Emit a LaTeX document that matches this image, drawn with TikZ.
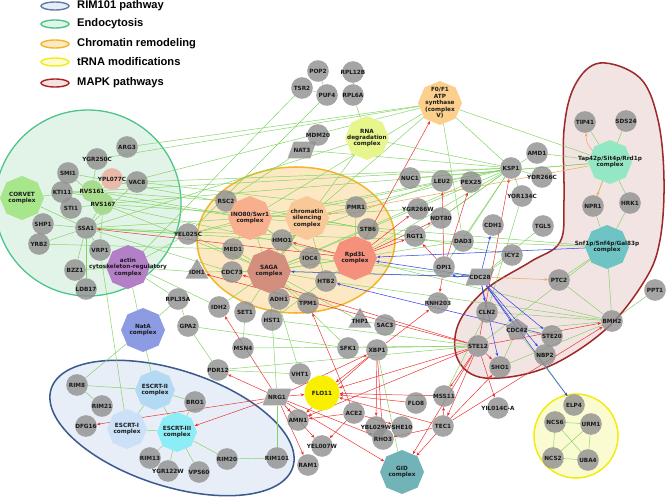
\documentclass[tikz,border=0pt]{standalone}
\usepackage{fontspec}
\setmainfont{DejaVu Sans}
\newfontfamily\legendfont{Liberation Sans}
\usetikzlibrary{shapes.geometric,arrows.meta}
\pgfdeclarelayer{back}
\pgfdeclarelayer{edges}
\pgfsetlayers{back,edges,main}
% region colours
\definecolor{rimb}{HTML}{3B5B8F}\definecolor{rimf}{HTML}{E8EEF7}
\definecolor{endob}{HTML}{4CC48A}\definecolor{endof}{HTML}{E2F3E8}
\definecolor{chrb}{HTML}{F5B52A}\definecolor{chrf}{HTML}{FDE8C4}
\definecolor{trnab}{HTML}{F2EC10}\definecolor{trnaf}{HTML}{FBFBD2}
\definecolor{mapkb}{HTML}{9C2A2A}\definecolor{mapkf}{HTML}{F3E4E4}
% node and edge colours
\definecolor{nodegrey}{HTML}{8F8F8F}
\definecolor{textdark}{HTML}{1A1A1A}
\definecolor{edgegreen}{HTML}{7FD35F}
\definecolor{edgered}{HTML}{EC2B2B}
\definecolor{edgeblue}{HTML}{3346E6}
\definecolor{edgeorange}{HTML}{F2A65A}
% complex colours
\definecolor{corvetc}{HTML}{A8E68C}\definecolor{actinc}{HTML}{B37FC6}
\definecolor{rnadegc}{HTML}{E6F58C}\definecolor{atpc}{HTML}{FCD08C}
\definecolor{ino80c}{HTML}{F8AF8E}\definecolor{silc}{HTML}{F9C898}
\definecolor{rpd3lc}{HTML}{F4907C}\definecolor{sagac}{HTML}{D48E7E}
\definecolor{natac}{HTML}{8C9BE2}\definecolor{escIIc}{HTML}{B3DAF2}
\definecolor{escIc}{HTML}{CCE0F8}\definecolor{escIIIc}{HTML}{8DEDF6}
\definecolor{gidc}{HTML}{72B3B7}\definecolor{tap42c}{HTML}{93E8C3}
\definecolor{snf1c}{HTML}{6EC3C3}\definecolor{rvsc}{HTML}{A8DB8E}
\definecolor{yplc}{HTML}{E9B9A9}\definecolor{flo11c}{HTML}{F8F000}
\begin{document}
\begin{tikzpicture}[x=0.03cm,y=-0.03cm,
  gn/.style={circle,fill=nodegrey,fill opacity=0.8,minimum size=0.65cm,inner sep=0pt},
  gt/.style={font=\bfseries\fontsize{4.9}{5.5}\selectfont,text=textdark,align=center,inner sep=0pt},
  oct/.style={regular polygon,regular polygon sides=8,shape border rotate=22.5,minimum size=1.32cm,inner sep=0pt},
  tri/.style={regular polygon,regular polygon sides=3,fill=nodegrey,fill opacity=0.8,minimum size=0.8cm,inner sep=0pt},
  para/.style={trapezium,trapezium left angle=70,trapezium right angle=110,fill=nodegrey,fill opacity=0.8,minimum width=0.62cm,minimum height=0.5cm,inner sep=2pt},
  ge/.style={draw=edgegreen,line width=0.4pt},
  re/.style={draw=edgered,line width=0.4pt,-{Stealth[length=3pt,width=2.4pt]}},
  be/.style={draw=edgeblue,line width=0.45pt,-{Stealth[length=3pt,width=2.4pt]}},
  oe/.style={draw=edgeorange,line width=0.45pt,-{Stealth[length=3pt,width=2.4pt]}},
  lg/.style={font=\legendfont\bfseries\fontsize{9.5}{11}\selectfont,anchor=west,inner sep=0pt}]
\useasboundingbox (0,0) rectangle (667,497);

% legend
\draw[draw=rimb!80,fill=rimf,line width=1.2pt] (55,6) ellipse[x radius=14,y radius=4];
\draw[draw=endob,fill=endof,line width=1.2pt] (55,24) ellipse[x radius=14,y radius=4];
\draw[draw=chrb,fill=chrf,line width=1.2pt] (55,44) ellipse[x radius=14,y radius=4];
\draw[draw=trnab,fill=trnaf,line width=1.2pt] (55,62) ellipse[x radius=14,y radius=4];
\draw[draw=mapkb!80!red,fill=mapkf,line width=1.2pt] (55,83) ellipse[x radius=14,y radius=4];
\node[lg] (lgrim) at (77,6) {RIM101 pathway};
\node[lg] (lgendo) at (77,24) {Endocytosis};
\node[lg] (lgchr) at (77,44) {Chromatin remodeling};
\node[lg] (lgtrna) at (77,62) {tRNA modifications};
\node[lg] (lgmapk) at (77,83) {MAPK pathways};

% grey genes
\foreach \n/\px/\py/\t in {
  arg3/127/147/ARG3, ygr250c/97/159/YGR250C, smi1/68/173/SMI1, vac8/137/182/VAC8,
  kti11/62/192/KTI11, sti1/71/208/STI1, shp1/43/224/SHP1, ssa1/86/228/SSA1,
  yrb2/39/244/YRB2, vrp1/100/250/VRP1, bzz1/75/270/BZZ1, ldb17/86/289/LDB17,
  yel025c/188/234/YEL025C, pop2/318/71/POP2, rpl12b/353/72/RPL12B, tsr2/302/88/TSR2,
  puf4/327/95/PUF4, rpl6a/353/95/RPL6A, mdm20/318/135/MDM20, nuc1/410/178/NUC1,
  rsc2/226/201/RSC2, pmr1/356/207/PMR1, stb6/368/229/STB6, hmo1/282/240/HMO1,
  med1/233/249/MED1, ioc4/310/258/IOC4, cdc73/232/272/CDC73, htb2/326/281/HTB2,
  adh1/279/299/ADH1, tpm1/308/303/TPM1, idh2/219/307/IDH2, set1/245/312/SET1,
  hst1/272/320/HST1, rpl35a/178/299/RPL35A, gpa2/188/326/GPA2, msn4/243/348/MSN4,
  pdr12/218/370/PDR12, vht1/300/374/VHT1, amn1/298/420/AMN1, yel007w/322/446/YEL007W,
  ram1/308/465/RAM1, rim8/77/385/RIM8, bro1/195/402/BRO1, rim21/102/406/RIM21,
  dfg16/86/426/DFG16, rim13/150/458/RIM13, ygr122w/168/471/YGR122W, vps60/199/472/VPS60,
  rim20/227/459/RIM20, rim101/277/458/RIM101, sac3/385/325/SAC3, rnh203/438/303/RNH203,
  cln2/487/312/CLN2, sfk1/348/348/SFK1, xbp1/377/350/XBP1, ste12/478/346/STE12,
  sho1/500/367/SHO1, mss11/444/396/MSS11, flo8/416/403/FLO8, ace2/354/413/ACE2,
  ybl029w/376/427/YBL029W, she10/402/427/SHE10, tec1/443/426/TEC1, yil014ca/498/408/YIL014C-A,
  rho3/383/439/RHO3, leu2/442/181/LEU2, pex25/471/182/PEX25, ygr266w/418/209/YGR266W,
  ndt80/441/218/NDT80, rgt1/415/236/RGT1, cdh1/493/225/CDH1, dad3/463/241/DAD3,
  opi1/444/267/OPI1, ksp1/511/168/KSP1, amd1/537/153/AMD1, ydr266c/542/177/YDR266C,
  yor134c/522/196/YOR134C, tgl5/543/226/TGL5, icy2/512/255/ICY2, tip41/585/122/TIP41,
  sds24/626/121/SDS24, npr1/593/206/NPR1, hrk1/630/203/HRK1, ptc2/559/280/PTC2,
  ppt1/655/290/PPT1, bmh2/612/321/BMH2, ste20/552/336/STE20, nbp2/545/355/NBP2,
  elp4/574/405/ELP4, ncs6/555/422/NCS6, urm1/591/424/URM1, ncs2/553/458/NCS2, uba4/588/460/UBA4}
  \node[gn,label={[gt]center:\t}] (\n) at (\px,\py) {};

% other gene shapes
\node[gn,fill=rvsc,fill opacity=1,label={[gt]center:RVS161}] (rvs161) at (92,191) {};
\node[gn,fill=rvsc,fill opacity=1,label={[gt]center:RVS167}] (rvs167) at (103,204) {};
\node[gn,fill=yplc,fill opacity=1,label={[gt]center:YPL077C}] (ypl077c) at (112,179) {};
\node[circle,fill=flo11c,minimum size=1.05cm,inner sep=0pt,label={[gt]center:FLO11}] (flo11) at (322,393) {};
\node[tri,label={[gt]center:IDH1}] (idh1) at (197,272) {};
\node[tri,label={[gt]center:THP1}] (thp1) at (360,321) {};
\node[para,label={[gt]center:NAT3}] (nat3) at (302,150) {};
\node[para,label={[gt]center:NRG1}] (nrg1) at (277,397) {};
\node[para,label={[gt]center:CDC28}] (cdc28) at (480,277) {};
\node[regular polygon,regular polygon sides=5,fill=nodegrey,fill opacity=0.8,minimum size=0.7cm,inner sep=0pt,label={[gt]center:CDC42}] (cdc42) at (517,330) {};

% complexes
\node[oct,fill=corvetc,label={[gt]center:{CORVET\\complex}}] (corvet) at (22,198) {};
\node[oct,fill=actinc,label={[gt]center:{actin\\cytoskeleton-regulatory\\complex}}] (actin) at (128,267) {};
\node[oct,fill=rnadegc,label={[gt]center:{RNA\\degradation\\complex}}] (rnadeg) at (367,138) {};
\node[oct,fill=atpc,label={[gt]center:{F0/F1\\ATP\\synthase\\(complex\\V)}}] (f0f1) at (440,103) {};
\node[oct,fill=ino80c,label={[gt]center:{INO80/Swr1\\complex}}] (ino80) at (250,218) {};
\node[oct,fill=silc,label={[gt]center:{chromatin\\silencing\\complex}}] (chromsil) at (307,218) {};
\node[oct,fill=rpd3lc,label={[gt]center:{Rpd3L\\complex}}] (rpd3l) at (355,258) {};
\node[oct,fill=sagac,label={[gt]center:{SAGA\\complex}}] (saga) at (269,271) {};
\node[oct,fill=natac,label={[gt]center:{NatA\\complex}}] (nata) at (143,330) {};
\node[oct,fill=escIIc,minimum size=1.2cm,label={[gt]center:{ESCRT-II\\complex}}] (escII) at (155,390) {};
\node[oct,fill=escIc,minimum size=1.2cm,label={[gt]center:{ESCRT-I\\complex}}] (escI) at (127,429) {};
\node[oct,fill=escIIIc,minimum size=1.2cm,label={[gt]center:{ESCRT-III\\complex}}] (escIII) at (177,432) {};
\node[oct,fill=gidc,label={[gt]center:{GID\\complex}}] (gid) at (402,472) {};
\node[oct,fill=tap42c,label={[gt]center:{Tap42p/Sit4p/Rrd1p\\complex}}] (tap42) at (610,162) {};
\node[oct,fill=snf1c,label={[gt]center:{Snf1p/Snf4p/Gal83p\\complex}}] (snf1) at (607,247) {};

% pathway regions
\begin{pgfonlayer}{back}
\draw[draw=endob,fill=endof,line width=1.1pt] (88,203) circle[radius=93];
\draw[draw=chrb,fill=chrf,line width=1.3pt] (296,240) ellipse[x radius=99,y radius=73];
\draw[draw=rimb,fill=rimf,line width=1.3pt,rotate around={-18:(172,428)}] (172,428) ellipse[x radius=127,y radius=58];
\draw[draw=mapkb,fill=mapkf,line width=1.3pt] plot[smooth cycle,tension=0.6] coordinates {
  (600,63) (640,78) (658,120) (664,180) (660,240) (645,280) (605,330) (545,368)
  (485,378) (458,360) (458,325) (485,290) (530,262) (560,242) (564,200) (564,130) (575,85)};
\draw[draw=trnab,fill=trnaf,line width=1.3pt] (576,436) circle[radius=42];
\end{pgfonlayer}

% interactions
\begin{pgfonlayer}{edges}
\foreach \a/\b in {
  arg3/f0f1, ygr250c/f0f1, ygr250c/rvs161, smi1/rvs167, kti11/rvs161, ypl077c/rvs161, vac8/ssa1,
  corvet/rvs161, sti1/rvs167, rvs161/rvs167, shp1/ssa1, yrb2/ssa1, ssa1/rvs167, ssa1/vrp1,
  ssa1/ldb17, vrp1/actin, bzz1/actin, vrp1/escI, actin/escII, rvs167/vrp1, ssa1/bzz1, corvet/ssa1,
  rvs161/ino80, rvs161/ksp1, rvs167/chromsil, rvs167/saga, rvs167/rpd3l, ssa1/ino80, ssa1/yel025c,
  ssa1/hmo1, vac8/ksp1, ypl077c/pmr1, rvs161/rsc2, smi1/stb6, kti11/ino80, actin/idh1,
  actin/yel025c, actin/rpl35a, tsr2/actin, ssa1/cdc73, yrb2/med1, vrp1/idh2, rvs167/tap42,
  ssa1/snf1, rvs161/f0f1,
  pop2/puf4, tsr2/puf4, rpl12b/rpl6a, rpl6a/rnadeg, mdm20/nat3, puf4/yel025c, nat3/ksp1,
  nat3/rsc2, rnadeg/ksp1, rnadeg/saga, rnadeg/ssa1, f0f1/tap42, f0f1/ksp1, f0f1/ino80,
  f0f1/dad3, f0f1/hmo1,
  rsc2/ino80, ino80/hmo1, ino80/saga, ino80/med1, chromsil/hmo1, chromsil/saga, pmr1/rpd3l,
  stb6/rpd3l, hmo1/saga, med1/saga, ioc4/saga, ioc4/ino80, cdc73/saga, htb2/saga, adh1/saga,
  tpm1/saga, saga/rpd3l, htb2/chromsil,
  ino80/ksp1, chromsil/ksp1, saga/ksp1, rpd3l/ksp1, ino80/ygr266w, hmo1/leu2, saga/pex25,
  saga/cdc28, ino80/snf1, chromsil/icy2, saga/dad3, ioc4/cdc28, rpd3l/bmh2, htb2/bmh2,
  set1/chromsil, hst1/rpd3l, msn4/set1, idh1/saga, yel025c/ksp1, yel025c/ino80, yel025c/saga,
  idh2/saga,
  ksp1/amd1, ksp1/ydr266c, ksp1/yor134c, ksp1/opi1, ksp1/rgt1, ksp1/ndt80, ksp1/dad3,
  tap42/tip41, tap42/sds24, tap42/npr1, tap42/hrk1, npr1/snf1, hrk1/snf1, snf1/bmh2, snf1/ptc2,
  snf1/ste12, tap42/amd1, tap42/nuc1, bmh2/ptc2, bmh2/ppt1, bmh2/cln2, bmh2/cdc42, bmh2/sho1,
  tgl5/cdc28, yor134c/cln2, icy2/cdc28, ste20/cdc42, elp4/cdc42, sho1/cdc42,
  ncs6/urm1, ncs6/uba4, ncs6/ncs2, urm1/ncs2, urm1/uba4, ncs2/uba4,
  thp1/sac3, thp1/saga, sfk1/saga, xbp1/gid, vht1/saga, mss11/cln2, sfk1/ste12, pdr12/vht1,
  gpa2/pdr12, gpa2/sfk1, rpl35a/gpa2, rpl35a/nata, nata/rim8, rim8/rim21, rim8/escII,
  escII/bro1, escII/escI, escII/escIII, bro1/escIII, escI/escIII, escIII/rim13, escIII/ygr122w,
  escIII/vps60, escIII/rim20, rim20/rim101, rim101/nrg1, nrg1/saga, msn4/ste12, hst1/ste12,
  pdr12/ste12}
  \draw[ge] (\a) -- (\b);
% regulation
\foreach \a/\b in {
  ste12/flo11, ste12/sho1, ste12/tec1, ste12/mss11, ste12/yil014ca, ste12/gid, ste12/amn1,
  ste12/ksp1, ste12/cdc73, ste12/bmh2, ste12/idh1,
  tec1/sho1, tec1/gid, tec1/rho3, tec1/flo11, tec1/bmh2, tec1/mss11,
  nrg1/flo11, nrg1/dfg16, nrg1/escIII, nrg1/pdr12, nrg1/amn1, nrg1/ram1, nrg1/yel007w,
  nrg1/idh2, nrg1/rho3, nrg1/gid, nrg1/xbp1,
  xbp1/ybl029w, xbp1/rho3, xbp1/flo11, xbp1/rnh203, xbp1/amn1,
  ace2/amn1, ace2/yel007w, ace2/she10, ace2/tpm1, flo8/flo11, mss11/flo11,
  opi1/rgt1, opi1/rnh203, opi1/leu2, opi1/pex25,
  rpd3l/ygr266w, rpd3l/rgt1, rpd3l/ndt80, rpd3l/f0f1, rpd3l/ssa1, rpd3l/hmo1}
  \draw[re] (\a) -- (\b);
% phosphorylation
\foreach \a/\b in {
  cdc28/cln2, cdc28/cdc42, cdc28/ste20, cdc28/nbp2, cdc28/sho1, cdc28/elp4, cdc28/cdh1,
  cdc28/saga, cdc28/rpd3l, snf1/rpd3l, ste20/htb2}
  \draw[be] (\a) -- (\b);
\draw[be] (cdc28) to[out=170,in=-40,looseness=1.4] (opi1);
\draw[oe] (tap42) to[bend left=25] (tip41);
\draw[oe] (tap42) -- (npr1);
\draw[oe] (tap42) -- (chromsil);
\draw[oe] (cdc28) -- (ptc2);
\end{pgfonlayer}
\end{tikzpicture}
\end{document}
